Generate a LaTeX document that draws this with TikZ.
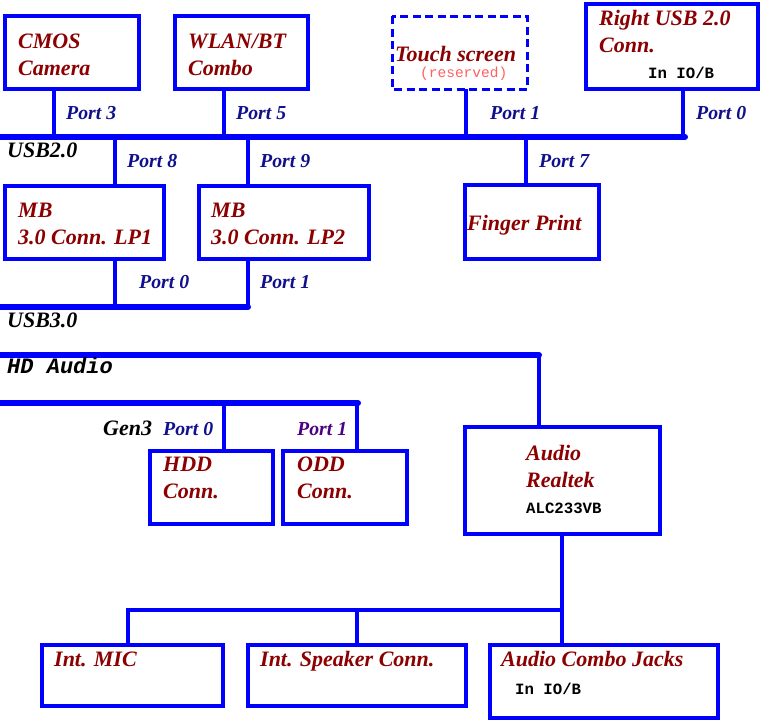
\documentclass[tikz,border=0pt]{standalone}
\usepackage{fontspec}
\setmainfont{Liberation Serif}
\setmonofont{Liberation Mono}
\definecolor{bblue}{RGB}{0,0,255}
\definecolor{dred}{RGB}{139,0,0}
\definecolor{pnavy}{RGB}{16,16,140}
\definecolor{pindigo}{RGB}{75,0,130}
\definecolor{resv}{RGB}{255,96,96}
\tikzset{
  box/.style={draw=bblue,line width=3.4pt},
  dbox/.style={draw=bblue,line width=3pt,dash pattern=on 8pt off 4.5pt},
  bus/.style={draw=bblue,line width=6pt,line cap=round},
  link/.style={draw=bblue,line width=3.2pt},
  btxt/.style={anchor=base west,inner sep=0pt,text=dred,font=\fontsize{22}{26.5}\selectfont\bfseries\itshape,align=left},
  ptxt/.style={anchor=base west,inner sep=0pt,text=pnavy,font=\fontsize{19.8}{22}\selectfont\bfseries\itshape},
  ktxt/.style={anchor=base west,inner sep=0pt,text=black,font=\fontsize{22}{26}\selectfont\bfseries\itshape},
  mtxt/.style={anchor=base west,inner sep=0pt,text=black,font=\fontsize{15.7}{18}\selectfont\ttfamily\bfseries},
}
\begin{document}
\begin{tikzpicture}[x=1pt,y=-1pt]
\useasboundingbox (0,0) rectangle (765,724);
% ---------- boxes ----------
\draw[box] (5,16) rectangle (139,89);
\coordinate (cmosB) at (54,89);
\draw[box] (175,16) rectangle (308,89);
\coordinate (wlanB) at (224,89);
\draw[dbox] (392,16) rectangle (527,89);
\coordinate (touchB) at (466,89);
\draw[box] (586,4) rectangle (758,89);
\coordinate (rusbB) at (683,89);
\draw[box] (5,186) rectangle (164,259);
\draw[box] (199,186) rectangle (369,259);
\draw[box] (465,185) rectangle (599,259);
\draw[box] (150,451) rectangle (273,524);
\draw[box] (283,451) rectangle (407,524);
\draw[box] (465,427) rectangle (660,534);
\draw[box] (42,645) rectangle (223,706);
\draw[box] (248,645) rectangle (466,706);
\draw[box] (490,645) rectangle (718,718);
% ---------- bus coordinates ----------
\coordinate (u2L) at (0,137);  \coordinate (u2R) at (685,137);
\coordinate (u3L) at (0,307);  \coordinate (u3R) at (248,307);
\coordinate (hdL) at (0,355);  \coordinate (hdR) at (539,355);
\coordinate (g3L) at (0,403);  \coordinate (g3R) at (358,403);
% ---------- links ----------
\draw[link] (cmosB) -- (54,137);
\draw[link] (wlanB) -- (224,137);
\draw[link] (touchB) -- (466,137);
\draw[link] (rusbB) -- (683,137);
\draw[link] (115,137) -- (115,186);
\draw[link] (248,137) -- (248,186);
\draw[link] (526,137) -- (526,185);
\draw[link] (115,259) -- (115,307);
\draw[link] (248,259) -- (248,307);
\draw[link] (539,355) -- (539,427);
\draw[link] (224,403) -- (224,451);
\draw[link] (357,403) -- (357,451);
\draw[link] (562,534) -- (562,610);
\draw[link] (128,645) -- (128,610) -- (562,610) -- (562,645);
\draw[link] (357,610) -- (357,645);
% ---------- buses ----------
\draw[bus] (u2L) -- (u2R);
\draw[bus] (u3L) -- (u3R);
\draw[bus] (hdL) -- (hdR);
\draw[bus] (g3L) -- (g3R);
% ---------- texts (multi-line nodes: base = last line) ----------
\node[btxt] (t1) at (18,75) {CMOS\\Camera};
\node[btxt] (t2) at (188,75) {WLAN/BT\\Combo};
\node[btxt] (t3) at (395,61) {Touch screen};
\node[anchor=base west,inner sep=0pt,text=resv,font=\fontsize{14.5}{17}\selectfont\ttfamily] (t3b) at (420,77) {(reserved)};
\node[btxt] (t4) at (599,52) {Right USB 2.0\\Conn.};
\node[mtxt] (t4b) at (648,78) {In IO/B};
\node[ptxt] (p3) at (66,119) {Port 3};
\node[ptxt] (p5) at (236,119) {Port 5};
\node[ptxt] (p1) at (490,119) {Port 1};
\node[ptxt] (p0) at (696,119) {Port 0};
\node[ktxt] (usb2) at (7,157) {USB2.0};
\node[ptxt] (p8) at (127,167) {Port 8};
\node[ptxt] (p9) at (260,167) {Port 9};
\node[ptxt] (p7) at (539,167) {Port 7};
\node[btxt] (t5) at (18,244) {MB\\3.0 Conn. LP1};
\node[btxt] (t6) at (211,244) {MB\\3.0 Conn. LP2};
\node[btxt] (t7) at (467,230) {Finger Print};
\node[ptxt] (q0) at (139,288) {Port 0};
\node[ptxt] (q1) at (260,288) {Port 1};
\node[ktxt] (usb3) at (7,327) {USB3.0};
\node[anchor=base west,inner sep=0pt,font=\fontsize{22}{26}\selectfont\ttfamily\bfseries\itshape] (hda) at (7,373) {HD Audio};
\node[ktxt] (gen3) at (103,435) {Gen3};
\node[ptxt] (r0) at (163,435) {Port 0};
\node[ptxt,text=pindigo] (r1) at (297,435) {Port 1};
\node[btxt] (t8) at (163,498) {HDD\\Conn.};
\node[btxt] (t9) at (297,498) {ODD\\Conn.};
\node[btxt] (t10) at (526,487) {Audio\\Realtek};
\node[mtxt] (t10b) at (526,513) {ALC233VB};
\node[btxt] (t11) at (54,666) {Int. MIC};
\node[btxt] (t12) at (260,666) {Int. Speaker Conn.};
\node[btxt] (t13) at (501,666) {Audio Combo Jacks};
\node[mtxt] (t13b) at (515,694) {In IO/B};
\end{tikzpicture}
\end{document}
